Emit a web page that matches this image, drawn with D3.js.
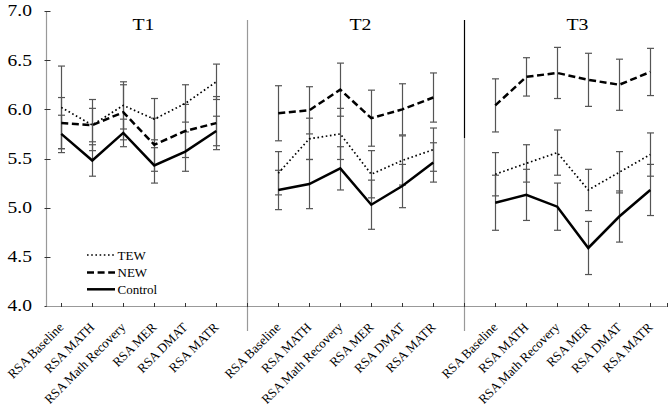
<!DOCTYPE html>
<html><head><meta charset="utf-8">
<script src="https://cdn.jsdelivr.net/npm/d3@7"></script>
<style>body{margin:0;background:#fff}svg{display:block}</style>
</head><body><svg id="c" width="672" height="404"></svg>
<script>
const categories = ["RSA Baseline","RSA MATH","RSA Math Recovery","RSA MER","RSA DMAT","RSA MATR"];
const panels = ["T1","T2","T3"];
const yTicks = [4.0,4.5,5.0,5.5,6.0,6.5,7.0];
const seriesNames = ["TEW","NEW","Control"];
const tewMeans = [[6.02,5.84,6.04,5.90,6.06,6.28],[5.35,5.70,5.75,5.34,5.48,5.59],[5.34,5.45,5.56,5.18,5.36,5.54]];
const tewErr = [[0.42,0.26,0.24,0.21,0.19,0.18],[0.22,0.21,0.26,0.24,0.25,0.22],[0.22,0.19,0.23,0.21,0.21,0.22]];
const newMeans = [[5.86,5.84,5.97,5.64,5.78,5.86],[5.96,5.99,6.20,5.91,6.00,6.12],[6.04,6.33,6.37,6.30,6.25,6.38]];
const newErr = [[0.26,0.17,0.28,0.27,0.27,0.27],[0.28,0.24,0.27,0.285,0.26,0.25],[0.27,0.195,0.26,0.27,0.26,0.24]];
const controlMeans = [[5.75,5.48,5.76,5.43,5.57,5.78],[5.18,5.24,5.40,5.03,5.22,5.46],[5.05,5.13,5.01,4.59,4.91,5.18]];
const controlErr = [[0.19,0.16,0.14,0.18,0.20,0.15],[0.20,0.25,0.22,0.25,0.22,0.20],[0.28,0.26,0.24,0.27,0.26,0.26]];

const styles = {
  TEW: {dash: "1.6,2.6", width: 1.7},
  NEW: {dash: "7,3.6", width: 2.5},
  Control: {dash: null, width: 2.5}
};
const series = [
  {name: "TEW", means: tewMeans, err: tewErr},
  {name: "NEW", means: newMeans, err: newErr},
  {name: "Control", means: controlMeans, err: controlErr}
];

const svg = d3.select("#c");
const font = "'Liberation Serif','Times New Roman',serif";
const x = d3.scaleLinear().domain([-0.47, 19.53]).range([46.7, 666.7]);
const y = d3.scaleLinear().domain([4, 7]).range([306, 11]);
const pos = (p, i) => x(p * 7 + i);

// separators
[6, 13].forEach((s, k) => {
  const sx = Math.round(x(s)) + 0.5;
  if (k === 1) {
    svg.append("line").attr("x1", sx).attr("x2", sx).attr("y1", 20).attr("y2", 138)
      .attr("stroke", "#000").attr("stroke-width", 1.2);
    svg.append("line").attr("x1", sx).attr("x2", sx).attr("y1", 138).attr("y2", 331)
      .attr("stroke", "#999").attr("stroke-width", 1.2);
  } else {
    svg.append("line").attr("x1", sx).attr("x2", sx).attr("y1", 20).attr("y2", 331)
      .attr("stroke", "#999").attr("stroke-width", 1.2);
  }
});

// y axis
const yAxisX = 46.5;
svg.append("line").attr("x1", yAxisX).attr("x2", yAxisX).attr("y1", y(7)).attr("y2", y(4))
  .attr("stroke", "#999").attr("stroke-width", 1.2);
yTicks.forEach(t => {
  svg.append("line").attr("x1", yAxisX - 2).attr("x2", yAxisX + 4)
    .attr("y1", Math.round(y(t)) + 0.5).attr("y2", Math.round(y(t)) + 0.5)
    .attr("stroke", "#333").attr("stroke-width", 1);
  svg.append("text").attr("transform", `translate(32,${y(t)}) scale(1.22,1)`)
    .attr("text-anchor", "end").attr("dy", "0.34em")
    .style("font-family", font).style("font-size", "16px").attr("fill", "#000")
    .text(t.toFixed(1));
});

// x axis
const axisY = 306;
svg.append("line").attr("x1", x.range()[0]).attr("x2", x.range()[1]).attr("y1", axisY + 0.5).attr("y2", axisY + 0.5)
  .attr("stroke", "#999").attr("stroke-width", 1.2);
const xTickIdx = d3.range(0, 20).concat([19.53]);
xTickIdx.forEach(t => {
  const tx = Math.round(x(t)) + 0.5;
  svg.append("line").attr("x1", tx).attr("x2", tx).attr("y1", axisY - 3).attr("y2", axisY + 1)
    .attr("stroke", "#333").attr("stroke-width", 1);
});
panels.forEach((pn, p) => {
  categories.forEach((c, i) => {
    svg.append("text").attr("transform", `translate(${pos(p, i) + 3},328) rotate(-45)`)
      .attr("text-anchor", "end")
      .style("font-family", font).style("font-size", "13px").attr("fill", "#000")
      .text(c);
  });
  svg.append("text").attr("transform", `translate(${x(p * 7 + 2.65)},30) scale(1.2,1)`)
    .attr("text-anchor", "middle")
    .style("font-family", font).style("font-size", "16.5px").attr("fill", "#000")
    .text(pn);
});

// error bars
series.forEach(s => {
  panels.forEach((pn, p) => {
    categories.forEach((c, i) => {
      const cx = Math.round(pos(p, i)) + 0.5;
      const m = s.means[p][i], e = s.err[p][i];
      const y1 = y(m + e), y2 = y(m - e);
      svg.append("line").attr("x1", cx).attr("x2", cx).attr("y1", y1).attr("y2", y2)
        .attr("stroke", "#555").attr("stroke-width", 1.2);
      [y1, y2].forEach(yy => {
        svg.append("line").attr("x1", cx - 3.5).attr("x2", cx + 3.5).attr("y1", yy).attr("y2", yy)
          .attr("stroke", "#555").attr("stroke-width", 1.2);
      });
    });
  });
});

// lines
const line = d3.line().x(d => d[0]).y(d => d[1]);
series.forEach(s => {
  const st = styles[s.name];
  panels.forEach((pn, p) => {
    const pts = s.means[p].map((m, i) => [pos(p, i), y(m)]);
    svg.append("path").attr("d", line(pts)).attr("fill", "none")
      .attr("stroke", "#000").attr("stroke-width", st.width)
      .attr("stroke-dasharray", st.dash).attr("stroke-linejoin", "miter");
  });
});

// legend
const legY = [255, 272.5, 289.3];
seriesNames.forEach((n, k) => {
  const st = styles[n];
  svg.append("line").attr("x1", 87).attr("x2", 115).attr("y1", legY[k]).attr("y2", legY[k])
    .attr("stroke", "#000").attr("stroke-width", st.width).attr("stroke-dasharray", st.dash);
  svg.append("text").attr("x", 117.5).attr("y", legY[k]).attr("dy", "0.35em")
    .style("font-family", font).style("font-size", "13px").attr("fill", "#000")
    .text(n);
});
</script></body></html>
